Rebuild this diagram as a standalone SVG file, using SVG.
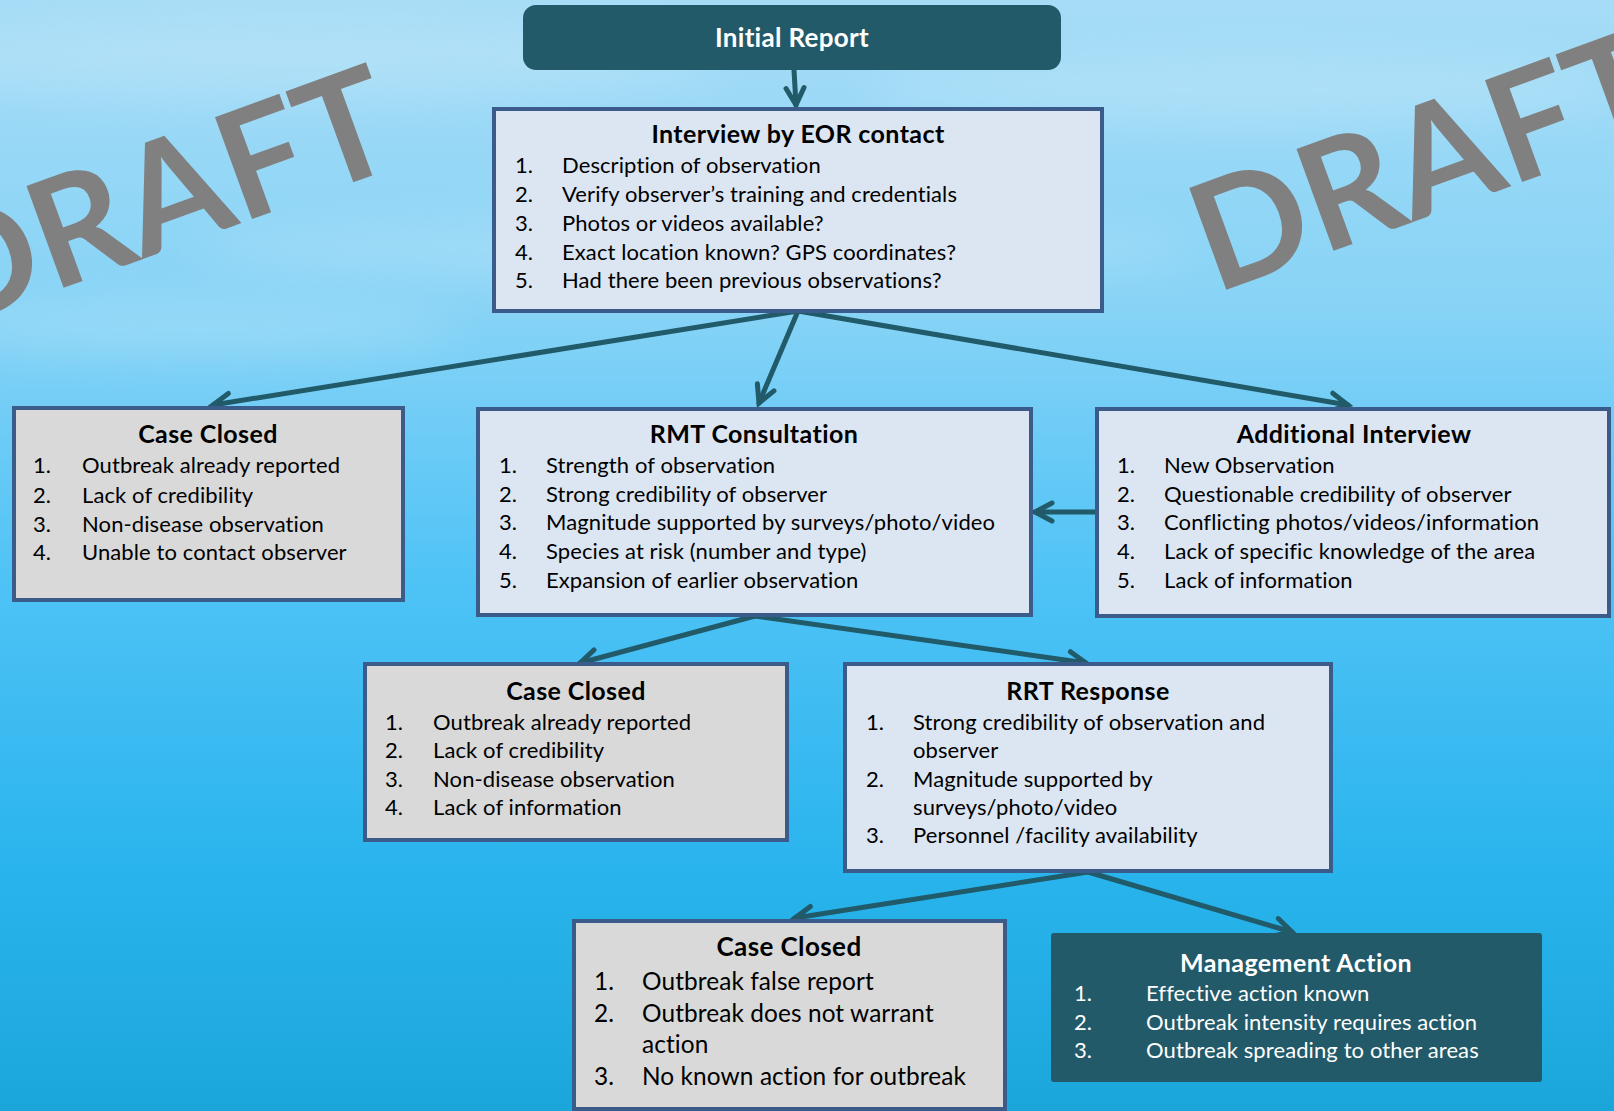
<svg xmlns="http://www.w3.org/2000/svg" width="1614" height="1111" viewBox="0 0 1614 1111">
<defs>
  <linearGradient id="sky" x1="0" y1="0" x2="0" y2="1">
    <stop offset="0" stop-color="#a6dcf6"/>
    <stop offset="0.28" stop-color="#87d3f6"/>
    <stop offset="0.52" stop-color="#4fc3f6"/>
    <stop offset="0.78" stop-color="#2ab4ed"/>
    <stop offset="1" stop-color="#1ba6db"/>
  </linearGradient>
  <filter id="soft" x="-30%" y="-100%" width="160%" height="300%">
    <feGaussianBlur stdDeviation="22"/>
  </filter>
  <marker id="chev" markerUnits="userSpaceOnUse" viewBox="-26 -16 32 32" markerWidth="32" markerHeight="32" refX="0" refY="0" orient="auto">
    <path d="M-17,-9 L0,0 L-17,9" fill="none" stroke="#215a69" stroke-width="5" stroke-linecap="round" stroke-linejoin="miter"/>
  </marker>
</defs>
<style>
  .wisp { fill: #ffffff; opacity: 0.16; filter: url(#soft); }
  .mark { font-family: Lato, "Open Sans", sans-serif; font-weight: 700; font-size: 150px; fill: #808080; }
  .link { stroke: #215a69; stroke-width: 5; fill: none; marker-end: url(#chev); stroke-linecap: round; }
  .box { stroke: #3b5b8a; stroke-width: 4; }
  .light { fill: #dce6f2; }
  .grey { fill: #d9d9d9; }
  .teal { fill: #225a69; }
  .title { font-family: Lato, "Open Sans", sans-serif; font-weight: 700; font-size: 25px; letter-spacing: 0.4px; fill: #000000; text-anchor: middle; }
  .item { font-family: Lato, "Open Sans", sans-serif; font-size: 22px; letter-spacing: 0.1px; fill: #000000; }
  .big { font-size: 24.4px; }
  .inv { fill: #ffffff; }
</style>

<!-- sky background -->
<rect x="0" y="0" width="1614" height="1111" fill="url(#sky)"/>
<g id="water-texture">
  <ellipse class="wisp" cx="300" cy="60" rx="420" ry="40"/>
  <ellipse class="wisp" cx="1250" cy="90" rx="380" ry="35"/>
  <ellipse class="wisp" cx="700" cy="250" rx="500" ry="30"/>
  <ellipse class="wisp" cx="200" cy="330" rx="260" ry="25"/>
</g>

<!-- watermarks -->
<g id="watermarks">
  <text class="mark" transform="translate(-55 331) rotate(-20)">DRAFT</text>
  <text class="mark" transform="translate(1215 294) rotate(-20)">DRAFT</text>
</g>

<!-- connectors -->
<g id="connectors">
  <line class="link" x1="794" y1="70" x2="796" y2="105"/>
  <line class="link" x1="798" y1="311" x2="213" y2="405"/>
  <line class="link" x1="798" y1="311" x2="759" y2="403"/>
  <line class="link" x1="798" y1="311" x2="1348" y2="405"/>
  <line class="link" x1="1096" y1="512" x2="1035" y2="512"/>
  <line class="link" x1="755" y1="616" x2="580" y2="663"/>
  <line class="link" x1="755" y1="616" x2="1086" y2="663"/>
  <line class="link" x1="1088" y1="872" x2="795" y2="918"/>
  <line class="link" x1="1088" y1="872" x2="1292" y2="932"/>
</g>

<g id="initial-report">
  <rect class="teal" x="523" y="5" width="538" height="65" rx="13"/>
  <text class="title inv" x="792" y="47" style="font-size:26px;letter-spacing:0.3px">Initial Report</text>
</g>

<g id="interview">
  <rect class="box light" x="494" y="109" width="608" height="202"/>
  <text class="title" x="798" y="143">Interview by EOR contact</text>
  <text class="item" y="173"><tspan x="515">1.</tspan><tspan x="562">Description of observation</tspan></text>
  <text class="item" y="202"><tspan x="515">2.</tspan><tspan x="562">Verify observer’s training and credentials</tspan></text>
  <text class="item" y="231"><tspan x="515">3.</tspan><tspan x="562">Photos or videos available?</tspan></text>
  <text class="item" y="260"><tspan x="515">4.</tspan><tspan x="562">Exact location known? GPS coordinates?</tspan></text>
  <text class="item" y="288"><tspan x="515">5.</tspan><tspan x="562">Had there been previous observations?</tspan></text>
</g>

<g id="case-closed-1">
  <rect class="box grey" x="14" y="408" width="389" height="192"/>
  <text class="title" x="208" y="443">Case Closed</text>
  <text class="item" y="473"><tspan x="33">1.</tspan><tspan x="82">Outbreak already reported</tspan></text>
  <text class="item" y="503"><tspan x="33">2.</tspan><tspan x="82">Lack of credibility</tspan></text>
  <text class="item" y="532"><tspan x="33">3.</tspan><tspan x="82">Non-disease observation</tspan></text>
  <text class="item" y="560"><tspan x="33">4.</tspan><tspan x="82">Unable to contact observer</tspan></text>
</g>

<g id="rmt-consultation">
  <rect class="box light" x="478" y="409" width="553" height="206"/>
  <text class="title" x="754" y="443">RMT Consultation</text>
  <text class="item" y="473"><tspan x="499">1.</tspan><tspan x="546">Strength of observation</tspan></text>
  <text class="item" y="502"><tspan x="499">2.</tspan><tspan x="546">Strong credibility of observer</tspan></text>
  <text class="item" y="530"><tspan x="499">3.</tspan><tspan x="546">Magnitude supported by surveys/photo/video</tspan></text>
  <text class="item" y="559"><tspan x="499">4.</tspan><tspan x="546">Species at risk (number and type)</tspan></text>
  <text class="item" y="588"><tspan x="499">5.</tspan><tspan x="546">Expansion of earlier observation</tspan></text>
</g>

<g id="additional-interview">
  <rect class="box light" x="1097" y="409" width="512" height="207"/>
  <text class="title" x="1354" y="443">Additional Interview</text>
  <text class="item" y="473"><tspan x="1117">1.</tspan><tspan x="1164">New Observation</tspan></text>
  <text class="item" y="502"><tspan x="1117">2.</tspan><tspan x="1164">Questionable credibility of observer</tspan></text>
  <text class="item" y="530"><tspan x="1117">3.</tspan><tspan x="1164">Conflicting photos/videos/information</tspan></text>
  <text class="item" y="559"><tspan x="1117">4.</tspan><tspan x="1164">Lack of specific knowledge of the area</tspan></text>
  <text class="item" y="588"><tspan x="1117">5.</tspan><tspan x="1164">Lack of information</tspan></text>
</g>

<g id="case-closed-2">
  <rect class="box grey" x="365" y="664" width="422" height="176"/>
  <text class="title" x="576" y="700">Case Closed</text>
  <text class="item" y="730"><tspan x="385">1.</tspan><tspan x="433">Outbreak already reported</tspan></text>
  <text class="item" y="758"><tspan x="385">2.</tspan><tspan x="433">Lack of credibility</tspan></text>
  <text class="item" y="787"><tspan x="385">3.</tspan><tspan x="433">Non-disease observation</tspan></text>
  <text class="item" y="815"><tspan x="385">4.</tspan><tspan x="433">Lack of information</tspan></text>
</g>

<g id="rrt-response">
  <rect class="box light" x="845" y="664" width="486" height="207"/>
  <text class="title" x="1088" y="700">RRT Response</text>
  <text class="item" y="730"><tspan x="866">1.</tspan><tspan x="913">Strong credibility of observation and</tspan></text>
  <text class="item" y="758"><tspan x="913">observer</tspan></text>
  <text class="item" y="787"><tspan x="866">2.</tspan><tspan x="913">Magnitude supported by</tspan></text>
  <text class="item" y="815"><tspan x="913">surveys/photo/video</tspan></text>
  <text class="item" y="843"><tspan x="866">3.</tspan><tspan x="913">Personnel /facility availability</tspan></text>
</g>

<g id="case-closed-3">
  <rect class="box grey" x="574" y="921" width="431" height="188"/>
  <text class="title" x="789" y="956" style="font-size:26px">Case Closed</text>
  <text class="item big" y="990"><tspan x="594">1.</tspan><tspan x="642">Outbreak false report</tspan></text>
  <text class="item big" y="1022"><tspan x="594">2.</tspan><tspan x="642">Outbreak does not warrant</tspan></text>
  <text class="item big" y="1053"><tspan x="642">action</tspan></text>
  <text class="item big" y="1085"><tspan x="594">3.</tspan><tspan x="642">No known action for outbreak</tspan></text>
</g>

<g id="management-action">
  <rect class="teal" x="1051" y="933" width="491" height="149" rx="3"/>
  <text class="title inv" x="1296" y="972">Management Action</text>
  <text class="item inv" y="1001"><tspan x="1074">1.</tspan><tspan x="1146">Effective action known</tspan></text>
  <text class="item inv" y="1030"><tspan x="1074">2.</tspan><tspan x="1146">Outbreak intensity requires action</tspan></text>
  <text class="item inv" y="1058"><tspan x="1074">3.</tspan><tspan x="1146">Outbreak spreading to other areas</tspan></text>
</g>
</svg>
